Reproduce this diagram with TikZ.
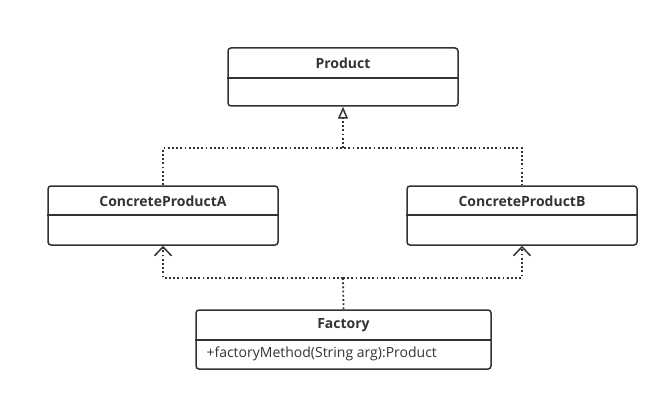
\documentclass[tikz,border=0pt]{standalone}
\usepackage{fontspec}
\setmainfont{Open Sans}
\usetikzlibrary{arrows.meta}
\definecolor{umlgray}{RGB}{51,51,51}
\tikzset{every picture/.style={line width=1.5pt}}

\begin{document}
\begin{tikzpicture}[x=1pt,y=1pt,yscale=-1,
	classbox/.style={draw=umlgray, rounded corners=3pt, inner sep=0pt},
	classname/.style={text=umlgray, font=\fontsize{14}{16}\selectfont\bfseries, inner sep=0.75pt},
	member/.style={text=umlgray, font=\fontsize{14}{16}\selectfont, inner sep=0.75pt, anchor=west},
	dotline/.style={draw=umlgray, line width=1.8pt, dash pattern=on 1.8pt off 2.4pt}]
	\useasboundingbox (0,0) rectangle (669,401);
	
	% Draw class boxes
	\node[classbox, minimum width=230, minimum height=58] (product) at (343,77) {};
	\node[classbox, minimum width=230, minimum height=59] (cpa) at (163,215.5) {};
	\node[classbox, minimum width=230, minimum height=59] (cpb) at (522,215.5) {};
	\node[classbox, minimum width=295, minimum height=59] (factory) at (343.5,339.5) {};
	
	% Draw dividers
	\draw[umlgray] (product.west |- 0,78) -- (product.east |- 0,78);
	\draw[umlgray] (cpa.west |- 0,215) -- (cpa.east |- 0,215);
	\draw[umlgray] (cpb.west |- 0,215) -- (cpb.east |- 0,215);
	\draw[umlgray] (factory.west |- 0,340) -- (factory.east |- 0,340);
	
	% Add text nodes
	\node[classname] (productname) at (343,63) {Product};
	\node[classname] (cpaname) at (163,201) {ConcreteProductA};
	\node[classname] (cpbname) at (522,201) {ConcreteProductB};
	\node[classname] (factoryname) at (343.5,325) {Factory};
	\node[member] (factorymethod) at (205,354) {+factoryMethod(String arg):Product};
	
	% Draw generalization
	\coordinate (upsplit) at (343,148);
	\draw[dotline] (cpa.north) -- (cpa.north |- upsplit) -- (cpb.north |- upsplit) -- (cpb.north);
	\draw[dotline, -{Triangle[open, length=12pt, width=10pt, line width=1.5pt]}] (upsplit) -- (product.south);
	
	% Draw dependencies
	\coordinate (downsplit) at (343,278);
	\draw[dotline] (factory.north) -- (downsplit);
	\draw[dotline, -{Straight Barb[length=9pt, width=17pt, line width=1.5pt]}] (downsplit) -| (cpa.south);
	\draw[dotline, -{Straight Barb[length=9pt, width=17pt, line width=1.5pt]}] (downsplit) -| (cpb.south);
\end{tikzpicture}
\end{document}
